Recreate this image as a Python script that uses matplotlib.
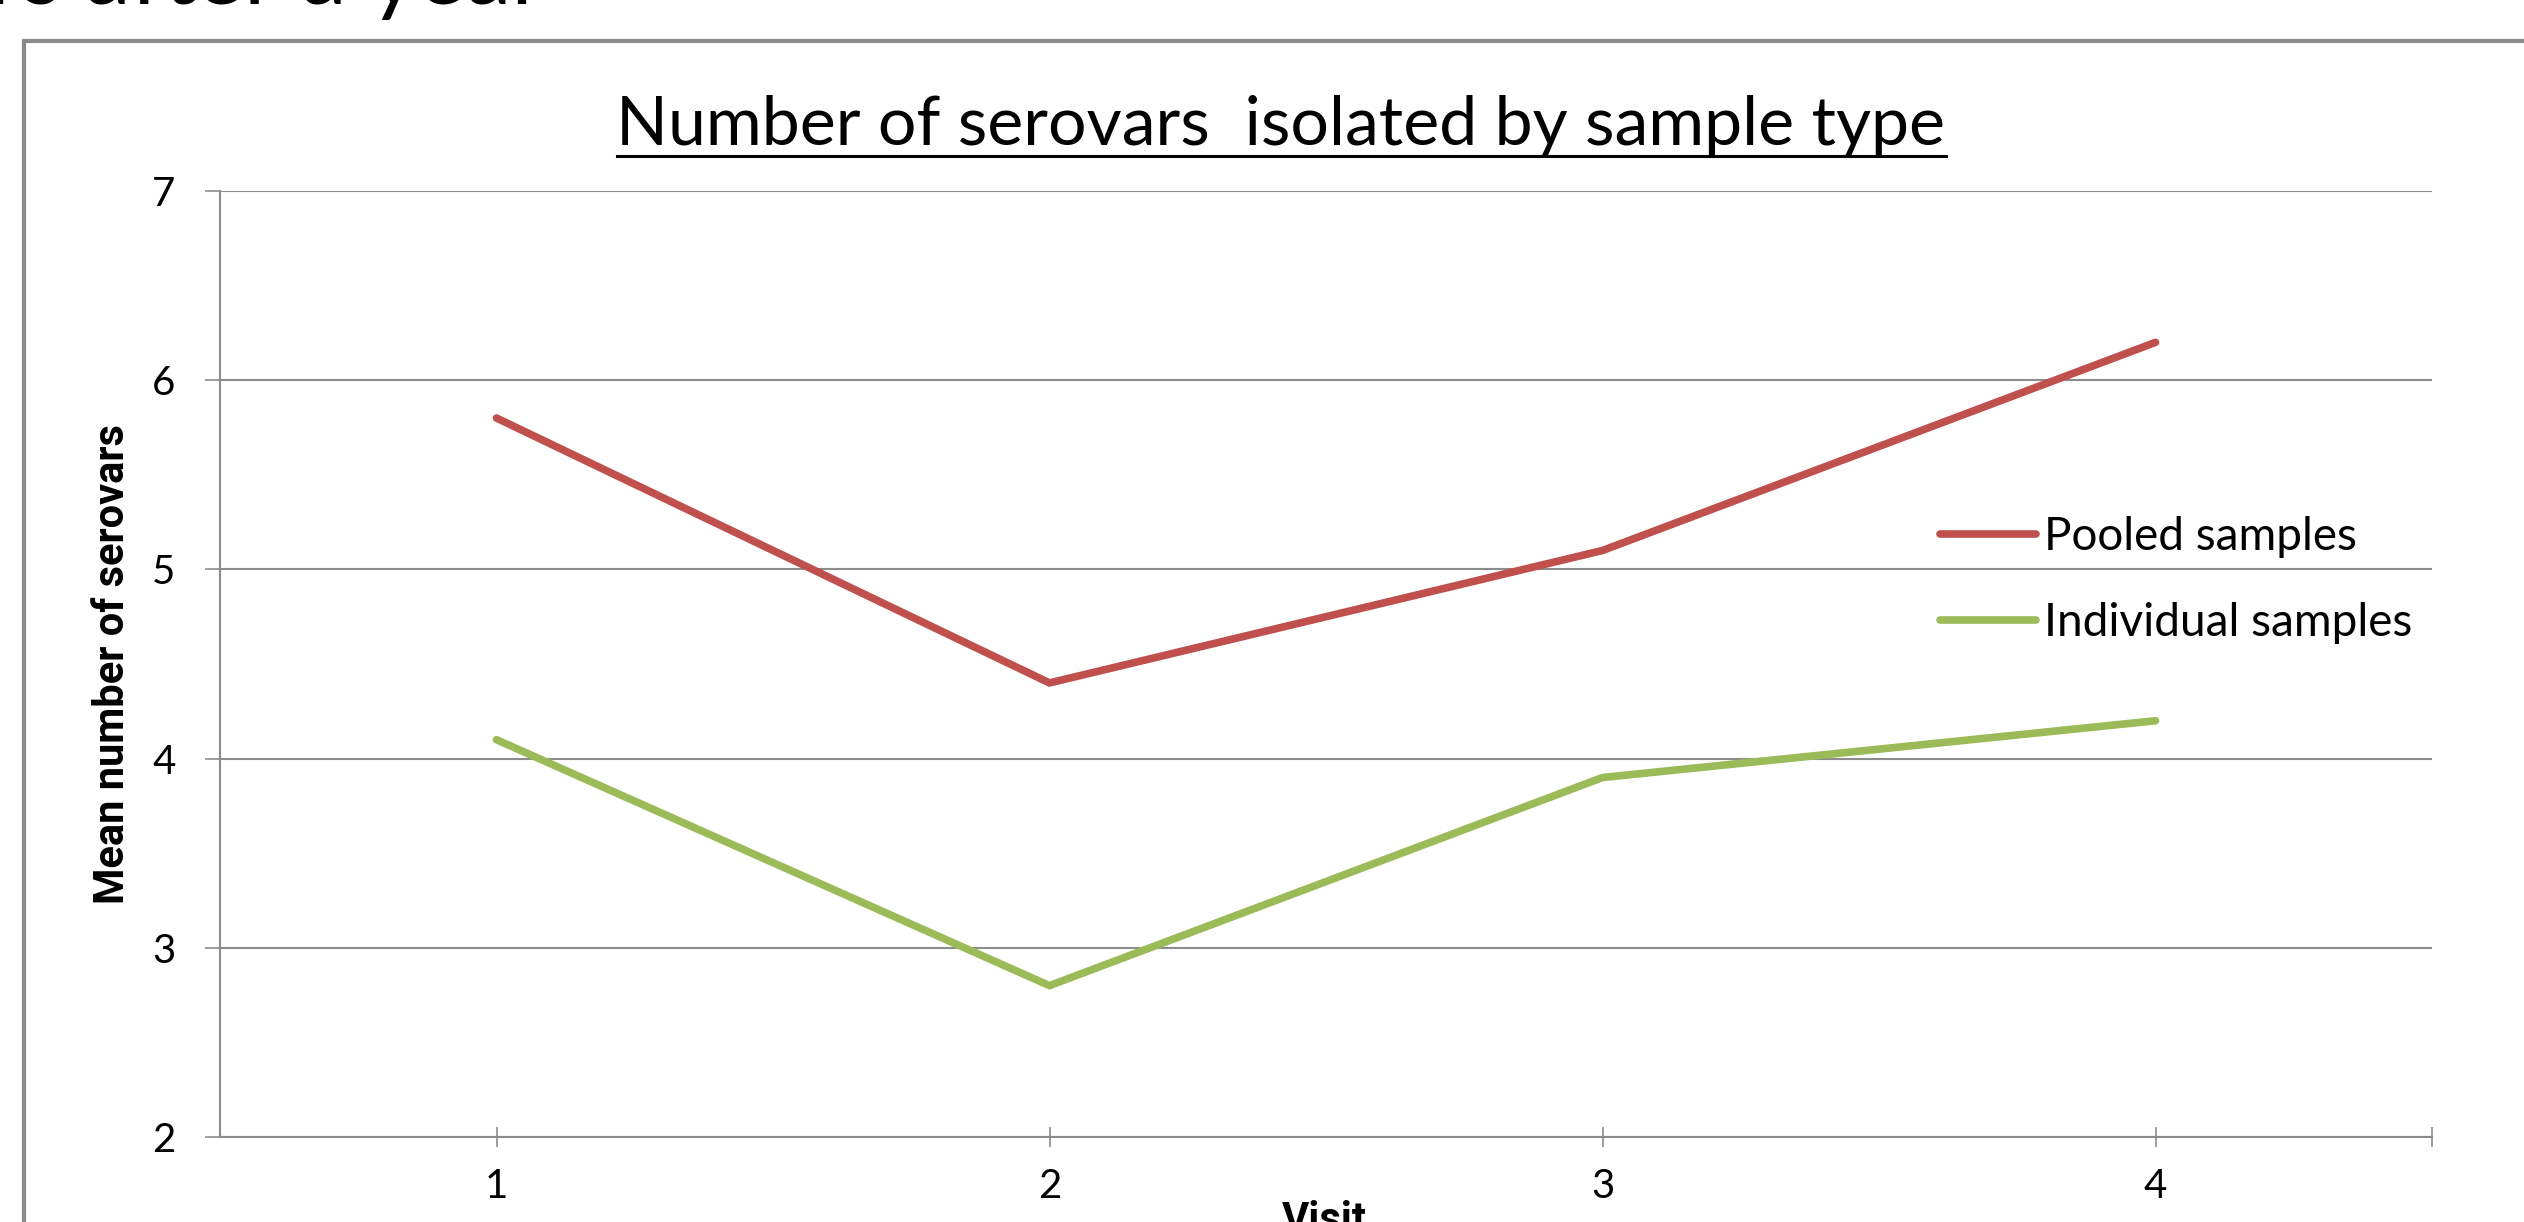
import numpy as np
import matplotlib
matplotlib.use("Agg")
import matplotlib.pyplot as plt
from matplotlib.lines import Line2D
from matplotlib.patches import Rectangle

# mean number of serovars per visit, by sample type
visits = [1, 2, 3, 4]
pooled = [5.8, 4.4, 5.1, 6.2]
individual = [4.1, 2.8, 3.9, 4.2]
series_labels = ["Pooled samples", "Individual samples"]
y_ticks = [2, 3, 4, 5, 6, 7]

W, H = 2524, 1222
RED = "#C0504D"
GREEN = "#9BBB59"
GRID = "#8C8C8C"
LABEL_FONT = ["Roboto", "DejaVu Sans"]

plt.rcParams["font.family"] = ["Lato", "DejaVu Sans"]

fig = plt.figure(figsize=(W / 100, H / 100), dpi=100)

# slide leftovers: a heading line cut by the top edge and the chart frame
fig.text(545 / W, 1 - 4 / H, "serovars after a year", ha="right",
         va="baseline", fontsize=66, color="black")
fig.patches.append(Rectangle((24 / W, -0.1), 1.2, 1.1 - 41 / H,
                             transform=fig.transFigure, fill=False,
                             edgecolor="#8A8A8A", lw=3.0))

ax = fig.add_axes([220 / W, 1 - 1137 / H, (2432 - 220) / W, (1137 - 191) / H])
ax.plot(visits, pooled, color=RED, lw=5.5, solid_capstyle="round",
        solid_joinstyle="miter", label=series_labels[0])
ax.plot(visits, individual, color=GREEN, lw=5.5, solid_capstyle="round",
        solid_joinstyle="miter", label=series_labels[1])

ax.set_xlim(0.5, 4.5)
ax.set_ylim(2, 7)
ax.set_xticks(visits)
ax.set_xticks([4.5], minor=True)
ax.set_yticks(y_ticks)
ax.grid(axis="y", color=GRID, lw=1.5)
ax.set_axisbelow(True)
for side in ("top", "right"):
    ax.spines[side].set_visible(False)
for side in ("left", "bottom"):
    ax.spines[side].set_color(GRID)
    ax.spines[side].set_linewidth(1.5)

ax.tick_params(axis="x", which="both", direction="inout", length=14,
               width=1.2, color=GRID, pad=15, labelsize=29)
ax.tick_params(axis="y", direction="out", length=11, width=1.2,
               color=GRID, pad=21, labelsize=29)

fig.text(113 / W, 1 - 664 / H, "Mean number of serovars", rotation=90,
         ha="center", va="center", fontsize=30, fontweight="bold",
         family=LABEL_FONT)
fig.text(1324 / W, 1 - 1200 / H, "Visit", ha="center", va="top",
         fontsize=30, fontweight="bold", family=LABEL_FONT)

leg = ax.legend(loc="upper left", bbox_to_anchor=(1940 / W, 1 - 516 / H),
                bbox_transform=fig.transFigure, frameon=False, fontsize=33,
                handlelength=2.1, handletextpad=0.17, labelspacing=0.95,
                borderpad=0, borderaxespad=0)

title = fig.text(1281 / W, 1 - 145 / H,
                 "Number of serovars  isolated by sample type",
                 ha="center", va="baseline", fontsize=49)

# underline the title across its full width
fig.canvas.draw()
bb = title.get_window_extent()
fig.lines.append(Line2D([bb.x0, bb.x1], [H - 156, H - 156], color="black",
                        lw=2.2, transform=None))

fig.savefig("out.png", dpi=100)
